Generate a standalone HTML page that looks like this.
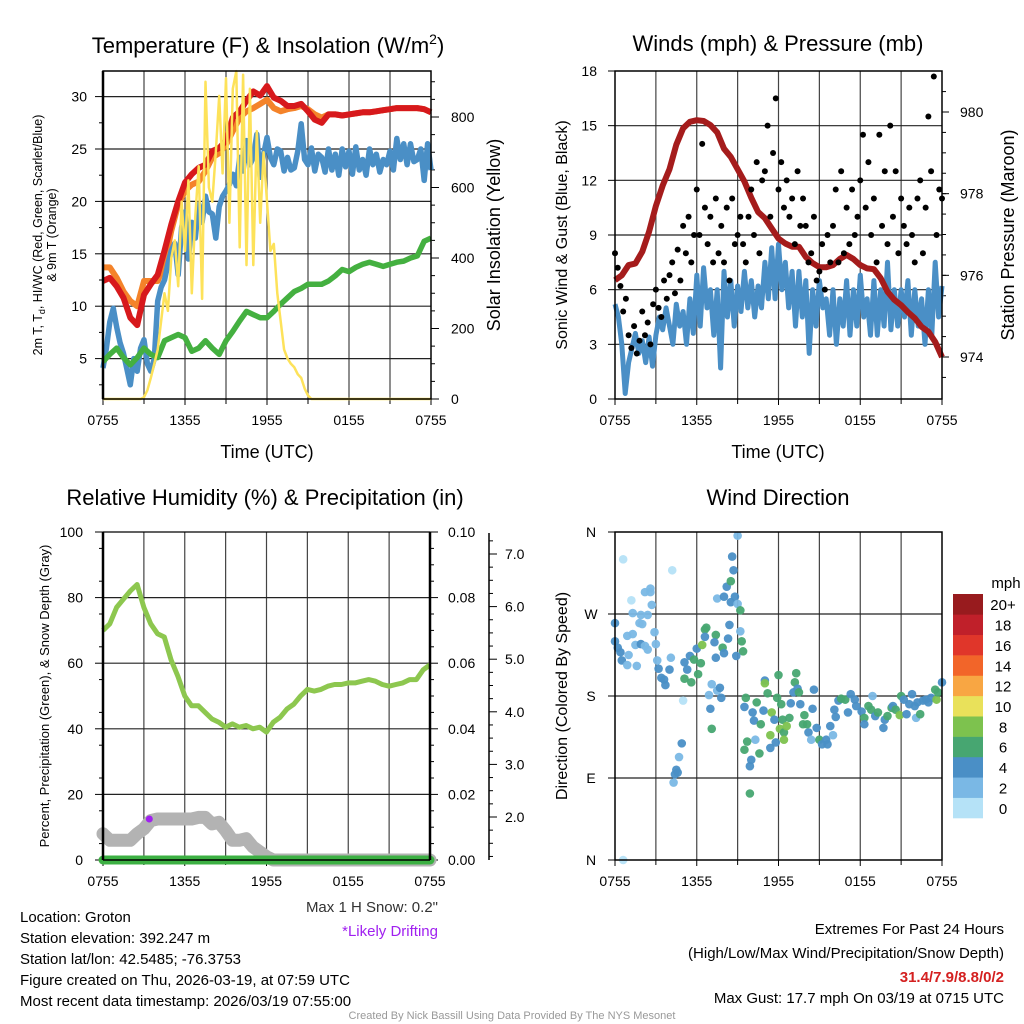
<!DOCTYPE html>
<html><head><meta charset="utf-8">
<style>
html,body{margin:0;padding:0;background:#fff;}
svg{display:block;font-family:"Liberation Sans",sans-serif;}
</style></head>
<body>
<svg id="chart" width="1024" height="1024" viewBox="0 0 1024 1024" xmlns="http://www.w3.org/2000/svg">
<rect width="1024" height="1024" fill="#fff"/>
<text x="268" y="53" font-size="22" text-anchor="middle">Temperature (F) &amp; Insolation (W/m<tspan font-size="14" dy="-9">2</tspan><tspan dy="9">)</tspan></text>
<text x="778" y="51" font-size="22" text-anchor="middle">Winds (mph) &amp; Pressure (mb)</text>
<text x="265" y="505" font-size="22" text-anchor="middle">Relative Humidity (%) &amp; Precipitation (in)</text>
<text x="778" y="505" font-size="22" text-anchor="middle">Wind Direction</text>

<text transform="translate(42,235) rotate(-90)" font-size="12.5" text-anchor="middle">2m T, T<tspan font-size="9" dy="3">d</tspan><tspan dy="-3">, HI/WC (Red, Green, Scarlet/Blue)</tspan></text>
<text transform="translate(56,235) rotate(-90)" font-size="12.5" text-anchor="middle">&amp; 9m T (Orange)</text>
<text transform="translate(500,235) rotate(-90)" font-size="18" text-anchor="middle">Solar Insolation (Yellow)</text>
<text transform="translate(567,235) rotate(-90)" font-size="16" text-anchor="middle">Sonic Wind &amp; Gust (Blue, Black)</text>
<text transform="translate(1014,235) rotate(-90)" font-size="18" text-anchor="middle">Station Pressure (Maroon)</text>
<text transform="translate(49,696) rotate(-90)" font-size="13" text-anchor="middle">Percent, Precipitation (Green), &amp; Snow Depth (Gray)</text>
<text transform="translate(567,696) rotate(-90)" font-size="16" text-anchor="middle">Direction (Colored By Speed)</text>
<text x="267" y="458" font-size="18" text-anchor="middle">Time (UTC)</text>
<text x="778" y="458" font-size="18" text-anchor="middle">Time (UTC)</text>

<g font-size="15">
<text x="20" y="922">Location: Groton</text>
<text x="20" y="943">Station elevation: 392.247 m</text>
<text x="20" y="964">Station lat/lon: 42.5485; -76.3753</text>
<text x="20" y="985">Figure created on Thu, 2026-03-19, at 07:59 UTC</text>
<text x="20" y="1006">Most recent data timestamp: 2026/03/19 07:55:00</text>
</g>
<text x="438" y="912" font-size="15" text-anchor="end" fill="#333">Max 1 H Snow: 0.2"</text>
<text x="438" y="936" font-size="15" text-anchor="end" fill="#a020f0">*Likely Drifting</text>
<g font-size="15" text-anchor="end">
<text x="1004" y="934">Extremes For Past 24 Hours</text>
<text x="1004" y="958">(High/Low/Max Wind/Precipitation/Snow Depth)</text>
<text x="1004" y="982" fill="#d42020" font-weight="bold">31.4/7.9/8.8/0/2</text>
<text x="1004" y="1003">Max Gust: 17.7 mph On 03/19 at 0715 UTC</text>
</g>
<text x="512" y="1019" font-size="11" text-anchor="middle" fill="#999">Created By Nick Bassill Using Data Provided By The NYS Mesonet</text>
<g id="layer"></g>
</svg>
<script>
// ---- data ----
const halfHourTimes = [0,0.5,1,1.5,2,2.5,3,3.5,4,4.5,5,5.5,6,6.5,7,7.5,8,8.5,9,9.5,10,10.5,11,11.5,12,12.5,13,13.5,14,14.5,15,15.5,16,16.5,17,17.5,18,18.5,19,19.5,20,20.5,21,21.5,22,22.5,23,23.5,24];
const tempRed = [12.4,12.7,11.9,10.8,8.9,8.2,11.1,12.1,13.0,15.3,17.8,20.0,21.8,22.6,23.2,23.5,24.8,25.1,25.8,28.0,28.6,29.6,30.5,30.1,31.0,29.9,29.6,29.1,29.1,29.3,28.6,27.8,27.5,28.3,28.3,28.2,28.3,28.4,28.5,28.5,28.6,28.7,28.8,28.9,28.9,28.9,28.9,28.8,28.5];
const temp9mOrange = [13.7,13.7,12.7,11.4,10.5,10.0,12.4,12.4,12.4,14.0,17.2,19.7,21.0,21.6,21.9,22.9,24.2,24.6,25.4,26.7,28.0,28.6,28.9,29.3,29.7,28.9,28.6,28.8,28.9,29.1,28.8,28.3,28.0,28.3,28.3,28.2,28.3,28.4,28.5,28.5,28.6,28.7,28.8,28.9,28.9,28.9,28.9,28.8,28.5];
const dewGreen = [4.7,5.4,6.0,5.1,4.4,5.1,6.0,5.4,5.1,6.7,7.0,7.3,7.0,5.7,6.0,6.7,6.0,5.4,6.7,7.6,8.6,9.5,9.2,8.9,8.9,9.5,10.2,10.8,11.4,11.7,12.1,12.1,12.1,12.4,12.9,13.5,13.3,13.7,14.0,14.2,14.0,13.8,14.0,14.2,14.3,14.6,14.8,16.2,16.5];
const wcBlue = [4.1,6.0,8.5,9.8,8.0,6.5,5.5,4.0,2.5,5.0,3.8,6.0,6.8,4.5,3.8,5.0,10.5,11.8,12.5,14.0,15.3,16.0,13.0,17.5,19.0,14.5,18.0,16.5,19.7,18.0,20.5,19.0,18.8,16.5,19.5,20.5,21.0,21.6,22.6,21.5,24.2,22.9,25.8,23.5,24.2,26.4,22.3,24.5,26.1,24.2,23.5,25.0,24.8,22.9,24.2,23.0,23.2,24.8,27.4,24.0,23.5,25.1,22.9,24.5,24.2,22.8,25.0,23.0,24.5,22.5,25.0,23.3,24.8,22.6,25.2,23.0,24.0,22.5,25.0,23.5,24.5,22.8,24.0,23.5,24.8,23.0,26.0,24.0,25.5,23.5,25.5,23.8,24.0,25.0,22.0,25.5,23.0];
const solarYellow = [0,0,0,0,0,0,0,0,0,0,0,0,5,25,60,100,140,220,300,250,400,450,320,560,420,620,300,520,660,284,900,600,560,700,860,640,910,500,880,930,430,920,380,880,380,760,500,700,560,420,440,300,220,140,115,100,90,70,60,30,10,0,0,0,0,0,0,0,0,0,0,0,0,0,0,0,0,0,0,0,0,0,0,0,0,0,0,0,0,0,0,0,0,0,0,0,0];
const pressureMaroon = [975.88,976.0,976.25,976.29,976.58,977.07,977.7,978.2,978.6,979.2,979.6,979.76,979.8,979.78,979.68,979.5,979.1,978.9,978.6,978.3,977.9,977.55,977.4,977.15,976.9,976.78,976.7,976.7,976.45,976.3,976.2,976.2,976.25,976.4,976.5,976.4,976.25,976.17,976.15,975.93,975.6,975.4,975.27,975.1,974.95,974.74,974.62,974.37,974.0];
const windBlue = [5.2,4.5,3.0,0.3,2.0,2.8,3.6,2.5,3.2,2.0,3.4,1.8,3.5,4.5,3.8,5.0,4.0,3.0,5.2,4.0,4.8,3.0,5.5,3.6,6.8,4.0,7.2,5.0,6.0,3.5,6.0,1.7,7.0,4.5,6.5,4.0,6.2,4.8,7.0,5.0,6.5,4.5,6.2,5.0,7.5,5.5,8.3,5.5,8.5,6.0,7.5,5.0,7.0,4.0,7.0,4.5,6.5,2.5,6.0,4.0,6.5,5.0,5.5,3.5,6.0,3.0,5.5,4.0,6.5,3.5,6.0,4.0,6.8,4.5,5.5,3.5,6.5,3.5,6.0,4.0,7.5,3.8,6.0,4.0,6.0,4.5,6.5,3.5,6.0,4.0,5.5,3.0,6.0,3.5,7.5,4.5,6.2];
const gustBlack = [8.0,7.2,6.2,4.8,5.5,3.5,2.8,4.0,2.5,3.2,4.8,3.5,4.2,3.0,5.2,6.0,5.0,4.5,6.5,5.5,6.8,7.5,5.8,8.2,6.5,9.5,8.0,10.0,7.5,9.0,11.5,9.0,14.0,10.5,8.5,10.0,7.5,11.0,8.0,9.5,7.5,10.5,6.5,11.0,8.5,9.0,10.0,8.5,7.5,10.0,11.5,9.0,13.0,8.0,12.0,12.5,15.0,10.0,13.5,16.5,11.5,13.0,10.5,12.0,10.0,11.0,8.5,12.5,9.5,11.0,9.5,7.5,8.0,10.0,6.5,7.0,8.5,6.0,9.0,7.5,9.5,11.5,7.5,12.5,8.0,10.5,8.5,11.5,9.0,10.0,12.0,14.5,10.5,13.0,9.0,11.0,7.5,14.5,9.5,12.5,8.5,15.0,10.0,12.5,8.0,11.0,9.5,8.5,10.5,9.0,7.5,11.0,12.0,8.0,10.5,15.5,12.5,17.7,9.0,11.5,11.0];
const rhGreen = [70,72,77,79.5,82,84,77,72,69,68,61,56,50,47,47,45,43,42,40.5,41.5,40.5,41,40,40.5,39,42,43.5,46,47.5,50,52,51.5,52,53,53.5,53.5,54,54,54.5,55,54.5,53.5,53,53.5,54,55,55,58,59.5];
const snowGray = [8,6,6,6,6,8,9.5,12,12.5,12.5,12.5,12.5,12.5,12.5,13,13,11,11.5,9,6,6,6.5,4,2.5,1,0,0,0,0,0,0,0,0,0,0,0,0,0,0,0,0,0,0,0,0,0,0,0,0];
const precipGreen = [0,0,0,0,0,0,0,0,0,0,0,0,0,0,0,0,0,0,0,0,0,0,0,0,0,0,0,0,0,0,0,0,0,0,0,0,0,0,0,0,0,0,0,0,0,0,0,0,0];
const wdTime = [0,0,0.2,0.4,0.5,0.6,1.2,1.3,1.9,2.4,2.2,2.6,2.6,2.7,0.9,1.3,1.8,2,1.5,1.9,2.2,2.4,1,1.6,0.9,2.9,3,3.1,3.2,3.4,3.6,3.7,4.0,4.1,4.2,5,5.1,5.5,5.3,5.1,5.6,5.8,6,6.1,6.3,6.4,6.6,6.7,6.6,7.4,7.3,7.4,7.9,8,8.3,8.4,7.1,6.9,7.5,7.7,7.8,7,7.1,4.9,4.7,4.5,4.6,4.4,4.3,7.5,8,8.5,8.8,8.2,8.5,8.7,8.6,9,9,9.2,9.2,9.3,9.4,8.9,9.5,9.6,10.1,10.2,10.3,9.5,9.7,9.9,10,9.9,10.6,10.4,10.7,10.9,11,11,11.2,11.5,11.4,11.4,11.7,11.8,11.9,12,12.2,12.3,12.1,12.4,12.4,12.6,12.8,12.9,13.1,13.2,13.3,13.4,13.5,13.6,13.9,13.8,14.2,14.4,14.1,14.5,14.6,14.8,15,15.2,15.5,15.6,15.8,16,16.2,16.1,16.4,16.6,16.9,17.1,17.3,17.6,17.7,18.1,18.3,18.3,18.6,18.8,18.9,19.1,19.3,19.7,19.8,20,20.3,20.4,20.6,20.9,21,21.2,21.4,21.6,21.8,22,22.1,22.2,22.4,22.6,22.8,23,23.2,23.5,23.6,23.7,24,0.6];
const wdDeg = [260,240,233,228,219,330,285,271,269,269,294,298,294,280,246,248,260,259,236,237,235,231,225,213,214,250,237,219,210,200,198,192,209,222,318,175,217,224,209,199,195,220,232,204,216,236,253,255,245,247,239,222,233,227,243,258,193,181,186,189,178,166,144,128,113,99,96,94,85,287,289,283,289,300,306,318,333,356,281,274,251,240,229,224,168,178,162,153,132,121,130,103,110,73,117,173,149,164,197,194,183,162,123,137,154,129,178,203,171,154,144,140,132,147,156,172,184,195,205,188,184,171,159,149,140,132,149,166,187,145,132,127,132,127,147,137,157,165,175,177,176,162,182,176,169,163,156,149,169,165,180,158,162,145,154,158,167,169,165,159,180,176,160,171,182,169,156,173,160,175,176,173,178,187,176,184,195,0];
const wdSpd = [5,5,5,5,5,1,1,3,3,3,3,3,3,3,3,3,3,3,3,5,3,3,3,3,3,3,3,3,5,5,5,5,5,3,1,1,5,5,5,7,7,7,5,7,7,9,7,7,5,7,5,5,7,5,5,5,3,3,3,5,5,5,7,5,3,5,5,5,3,3,5,5,5,5,7,5,5,3,3,7,3,7,7,5,5,7,5,5,3,7,7,5,5,7,7,7,7,5,5,9,7,9,5,9,5,5,7,7,7,7,9,7,9,9,7,5,5,7,7,5,7,5,7,7,5,3,7,5,5,5,7,5,5,5,5,3,5,5,5,7,7,5,5,5,5,5,7,5,7,7,3,5,7,5,5,7,7,5,7,9,7,5,5,5,5,5,3,5,7,5,5,5,5,7,9,7,5,1];
const timeTicks = ["0755","1355","1955","0155","0755"];
const tempTicks = [5,10,15,20,25,30];
const solarTicks = [0,200,400,600,800];
const windTicks = [0,3,6,9,12,15,18];
const pressureTicks = [974,976,978,980];
const rhTicks = [0,20,40,60,80,100];
const precipTicks = ["0.00","0.02","0.04","0.06","0.08","0.10"];
const snowTicks = ["2.0","3.0","4.0","5.0","6.0","7.0"];
const dirTicks = ["N","E","S","W","N"];
const speedBins = ["0","2","4","6","8","10","12","14","16","18","20+"];
const speedColors = ["#b5e2f7","#7ab8e5","#4a8fc6","#47a671","#7dc24e","#e9e15a","#f8a643","#f26529","#e0362a","#c0202a","#981b1e"];

// ---- drawing ----
const NS="http://www.w3.org/2000/svg";
const layer=document.getElementById('layer');
function el(tag,attrs,parent){const e=document.createElementNS(NS,tag);for(const k in attrs)e.setAttribute(k,attrs[k]);(parent||layer).appendChild(e);return e;}
function lin(d0,d1,r0,r1){return v=>r0+(v-d0)*(r1-r0)/(d1-d0);}
function txt(x,y,s,size,anchor,parent){const t=el('text',{x:x,y:y,'font-size':size,'text-anchor':anchor||'middle'},parent);t.textContent=s;return t;}
function pathD(xs,ys,sx,sy){return xs.map((t,i)=>(i?'L':'M')+sx(t).toFixed(1)+','+sy(ys[i]).toFixed(1)).join('');}
function qTimes(n){const a=[];for(let i=0;i<n;i++)a.push(i*24/(n-1));return a;}

function frame(g,x0,x1,y0,y1,name){
  // vertical grid every 3h
  const sx=lin(0,24,x0,x1);
  for(let h=3;h<24;h+=3){const l=el('line',{x1:sx(h),x2:sx(h),y1:y0,y2:y1,stroke:'#444','stroke-width':1.2},g);
  
  }
  for(let i=0;i<timeTicks.length;i++){const t=txt(sx(i*6),y1+26,timeTicks[i],14,'middle',g);
  
  
  el('line',{x1:sx(i*6),x2:sx(i*6),y1:y1,y2:y1+6,stroke:'#000'},g);}
  for(let h=3;h<24;h+=6){el('line',{x1:sx(h),x2:sx(h),y1:y1,y2:y1+5,stroke:'#000'},g);}
  return sx;
}
function hgrid(g,x0,x1,y,name){const l=el('line',{x1:x0,x2:x1,y1:y,y2:y,stroke:'#222','stroke-width':1.2},g);
  
  }

// Panel 1
(function(){
  const g=el('g',{});
  
  
  const x0=103,x1=431,y0=71,y1=399;
  const sx=frame(g,x0,x1,y0,y1,'temp');
  const sy=lin(0,10,411,306.2);
  const sr=lin(0,800,399,117);
  tempTicks.forEach(v=>{hgrid(g,x0,x1,sy(v),'temp-gridline');el('line',{x1:x0-8,x2:x0,y1:sy(v),y2:sy(v),stroke:'#000'},g);
    const t=txt(x0-16,sy(v)+5,String(v),14,'end',g);
    
    });
  for(let v=2.5;v<32;v+=5){el('line',{x1:x0-4,x2:x0,y1:sy(v),y2:sy(v),stroke:'#000'},g);}
  solarTicks.forEach(v=>{el('line',{x1:x1,x2:x1+8,y1:sr(v),y2:sr(v),stroke:'#000'},g);
    const t=txt(x1+20,sr(v)+5,String(v),14,'start',g);
    
    });
  for(let v=50;v<930;v+=50){if(v%200)el('line',{x1:x1,x2:x1+4,y1:sr(v),y2:sr(v),stroke:'#000'},g);}
  const o=el('path',{d:pathD(halfHourTimes,temp9mOrange,sx,sy),fill:'none',stroke:'#f4832a','stroke-width':6,'stroke-linejoin':'round'},g);
  
  
  const r=el('path',{d:pathD(halfHourTimes,tempRed,sx,sy),fill:'none',stroke:'#d7191c','stroke-width':6,'stroke-linejoin':'round'},g);
  
  
  const b=el('path',{d:pathD(qTimes(wcBlue.length),wcBlue,sx,sy),fill:'none',stroke:'#4a8fc6','stroke-width':5.5,'stroke-linejoin':'round'},g);
  
  
  const gr=el('path',{d:pathD(halfHourTimes,dewGreen,sx,sy),fill:'none',stroke:'#44b040','stroke-width':5.5,'stroke-linejoin':'round'},g);
  
  
  const y=el('path',{d:pathD(qTimes(solarYellow.length),solarYellow,sx,sr),fill:'none',stroke:'#fde25a','stroke-width':2.5,'stroke-linejoin':'round'},g);
  
  
  el('rect',{x:x0,y:y0,width:x1-x0,height:y1-y0,fill:'none',stroke:'#000','stroke-width':1.5},g);
  el('line',{x1:x0,x2:x0,y1:y0,y2:y1,stroke:'#000','stroke-width':2.5},g);
})();

// Panel 2
(function(){
  const g=el('g',{});
  
  
  const x0=615,x1=942,y0=71,y1=399;
  const sx=frame(g,x0,x1,y0,y1,'winds');
  const sy=lin(0,18,399,71);
  const sp=lin(974,980,357,112);
  windTicks.forEach(v=>{if(v>0&&v<18)hgrid(g,x0,x1,sy(v),'winds-gridline');el('line',{x1:x0-7,x2:x0,y1:sy(v),y2:sy(v),stroke:'#000'},g);
    const t=txt(x0-18,sy(v)+5,String(v),14,'end',g);
    
    });
  pressureTicks.forEach(v=>{el('line',{x1:x1,x2:x1+7,y1:sp(v),y2:sp(v),stroke:'#000'},g);
    const t=txt(x1+18,sp(v)+5,String(v),14,'start',g);
    
    });
  for(let v=973.5;v<981;v+=0.5){el('line',{x1:x1,x2:x1+4,y1:sp(v),y2:sp(v),stroke:'#000'},g);}
  const b=el('path',{d:pathD(qTimes(windBlue.length),windBlue,sx,sy),fill:'none',stroke:'#4a8fc6','stroke-width':5,'stroke-linejoin':'round'},g);
  
  
  const m=el('path',{d:pathD(halfHourTimes,pressureMaroon,sx,sp),fill:'none',stroke:'#a51c1c','stroke-width':6,'stroke-linejoin':'round'},g);
  
  
  const gt=qTimes(gustBlack.length);
  gustBlack.forEach((v,i)=>{const c=el('circle',{cx:sx(gt[i]),cy:sy(v),r:3,fill:'#000'},g);
    
    });
  el('rect',{x:x0,y:y0,width:x1-x0,height:y1-y0,fill:'none',stroke:'#000','stroke-width':1.5},g);
})();

// Panel 3
(function(){
  const g=el('g',{});
  
  
  const x0=103,x1=430,y0=532,y1=860;
  const sx=frame(g,x0,x1,y0,y1,'humidity');
  const sy=lin(0,100,860,532);
  rhTicks.forEach((v,i)=>{if(v>0&&v<100)hgrid(g,x0,x1,sy(v),'humidity-gridline');el('line',{x1:x0-8,x2:x0,y1:sy(v),y2:sy(v),stroke:'#000'},g);
    const t=txt(x0-20,sy(v)+5,String(v),14,'end',g);
    
    
    el('line',{x1:x1,x2:x1+8,y1:sy(v),y2:sy(v),stroke:'#000'},g);
    const p=txt(x1+18,sy(v)+5,precipTicks[i],14,'start',g);
    
    });
  el('line',{x1:x0,x2:x1,y1:y0,y2:y0,stroke:'#000','stroke-width':1.2},g);
  for(let v=5;v<100;v+=10){el('line',{x1:x0-4,x2:x0,y1:sy(v),y2:sy(v),stroke:'#000'},g);}
  for(let v=5;v<100;v+=5){if(v%20)el('line',{x1:x1,x2:x1+4,y1:sy(v),y2:sy(v),stroke:'#000'},g);}
  const ss=lin(2,7,817,554);
  el('line',{x1:489,x2:489,y1:533,y2:860,stroke:'#000','stroke-width':1.5},g);
  snowTicks.forEach(s=>{const v=parseFloat(s);el('line',{x1:489,x2:497,y1:ss(v),y2:ss(v),stroke:'#000'},g);
    const t=txt(505,ss(v)+5,s,14,'start',g);
    
    });
  for(let v=1.25;v<7.4;v+=0.25){if(Math.abs(v-Math.round(v))>0.01)el('line',{x1:489,x2:493,y1:ss(v),y2:ss(v),stroke:'#000'},g);}
  const s=el('path',{d:pathD(halfHourTimes,snowGray,sx,sy),fill:'none',stroke:'#b3b3b3','stroke-width':13,'stroke-linejoin':'round','stroke-linecap':'round'},g);
  
  
  const pr=el('path',{d:pathD(halfHourTimes,precipGreen,sx,sy),fill:'none',stroke:'#3cb043','stroke-width':9,'stroke-linecap':'round'},g);
  
  
  const rh=el('path',{d:pathD(halfHourTimes,rhGreen,sx,sy),fill:'none',stroke:'#8dc74f','stroke-width':5,'stroke-linejoin':'round'},g);
  
  
  const d=el('circle',{cx:sx(3.4),cy:sy(12.5),r:3.5,fill:'#a020f0'},g);
  
  
  el('line',{x1:x0,x2:x0,y1:y0,y2:y1,stroke:'#000','stroke-width':2.5},g);
  el('line',{x1:x1,x2:x1,y1:y0,y2:y1,stroke:'#000','stroke-width':2.5},g);
  el('line',{x1:x0,x2:x1,y1:y1,y2:y1,stroke:'#000','stroke-width':1.5},g);
})();

// Panel 4
(function(){
  const g=el('g',{});
  
  
  const x0=615,x1=942,y0=532,y1=860;
  const sx=frame(g,x0,x1,y0,y1,'direction');
  const sy=lin(0,360,860,532);
  dirTicks.forEach((s,i)=>{const v=i*90;if(v>0&&v<360)hgrid(g,x0,x1,sy(v),'direction-gridline');el('line',{x1:x0-7,x2:x0,y1:sy(v),y2:sy(v),stroke:'#000'},g);
    const t=txt(x0-24,sy(v)+5,s,14,'middle',g);
    
    });
  wdTime.forEach((t,i)=>{const ci=Math.min(10,Math.floor(wdSpd[i]/2));
    const c=el('circle',{cx:sx(t),cy:sy(wdDeg[i]),r:4.3,fill:speedColors[ci],'fill-opacity':0.95},g);
    
    });
  el('rect',{x:x0,y:y0,width:x1-x0,height:y1-y0,fill:'none',stroke:'#000','stroke-width':1.5},g);
  // colorbar
  const cb=el('g',{},g);
  
  
  const h=224/speedBins.length;
  speedBins.forEach((s,i)=>{const yy=818-(i+1)*h;
    const r=el('rect',{x:953,y:yy,width:30,height:h+0.3,fill:speedColors[i]},cb);
    
    
    const t=txt(1003,yy+h/2+6,s,15,'middle',cb);
    
    });
  const u=txt(1006,588,'mph',15,'middle',cb);
  
  
})();
</script>
</body></html>
